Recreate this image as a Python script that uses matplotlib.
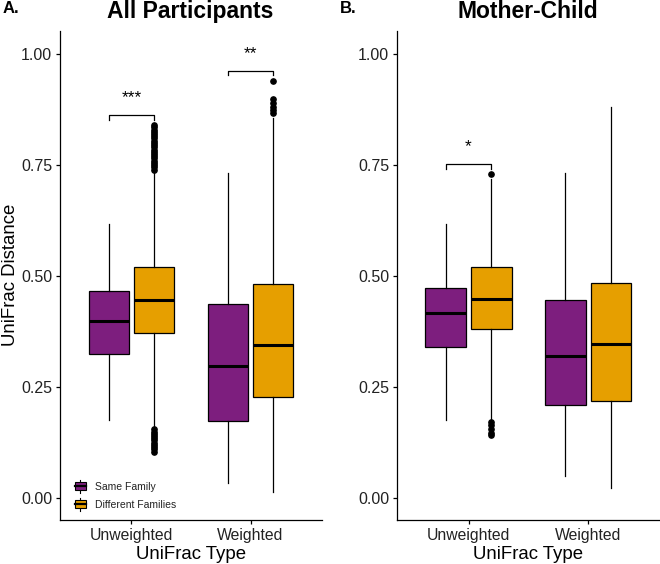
import matplotlib
matplotlib.use("Agg")
import matplotlib.pyplot as plt
from matplotlib.legend_handler import HandlerBase
from matplotlib.patches import Rectangle
from matplotlib.lines import Line2D

plt.rcParams['font.family'] = ['Liberation Sans', 'DejaVu Sans']

# ---------------- data ----------------
categories = ["Unweighted", "Weighted"]
groups = ["Same Family", "Different Families"]
colors = ["#7D1E7E", "#E69F00"]

# Panel A: All Participants  (whislo, q1, med, q3, whishi) per [category][group]
a_stats = [
    [(0.176, 0.325, 0.400, 0.467, 0.618), (0.160, 0.373, 0.447, 0.520, 0.734)],
    [(0.034, 0.173, 0.298, 0.438, 0.732), (0.013, 0.227, 0.345, 0.483, 0.856)],
]
a_fliers = [
    [[], [0.740, 0.745, 0.750, 0.755, 0.760, 0.765, 0.770, 0.775, 0.780, 0.785,
          0.790, 0.795, 0.800, 0.805, 0.810, 0.815, 0.820, 0.825, 0.830, 0.835, 0.840,
          0.105, 0.110, 0.115, 0.120, 0.125, 0.130, 0.135, 0.140, 0.145, 0.150, 0.155]],
    [[], [0.868, 0.875, 0.882, 0.890, 0.898, 0.940]],
]
a_signif = [("***", 0.862), ("**", 0.963)]

# Panel B: Mother-Child
b_stats = [
    [(0.176, 0.341, 0.418, 0.473, 0.618), (0.178, 0.381, 0.449, 0.520, 0.719)],
    [(0.049, 0.209, 0.321, 0.447, 0.732), (0.022, 0.218, 0.348, 0.485, 0.881)],
]
b_fliers = [
    [[], [0.730, 0.172, 0.164, 0.156, 0.148, 0.142]],
    [[], []],
]
b_signif = [("*", 0.752), None]

yticks = [0.00, 0.25, 0.50, 0.75, 1.00]
ytick_labels = ["0.00", "0.25", "0.50", "0.75", "1.00"]

# ---------------- figure ----------------
W, H = 660, 564
fig = plt.figure(figsize=(W / 100, H / 100), dpi=100)

def px_axes(x0, x1, ytop, ybot):
    return fig.add_axes([x0 / W, 1 - ybot / H, (x1 - x0) / W, (ybot - ytop) / H])

offset = 0.19
bwidth = 0.34

def draw_panel(ax, stats, fliers, signif):
    for ci, cat in enumerate(categories):
        for gi in range(2):
            wl, q1, med, q3, wh = stats[ci][gi]
            pos = ci + 1 + (offset if gi == 1 else -offset)
            st = dict(whislo=wl, q1=q1, med=med, q3=q3, whishi=wh, fliers=fliers[ci][gi])
            ax.bxp([st], positions=[pos], widths=bwidth, patch_artist=True,
                   showcaps=False,
                   boxprops=dict(facecolor=colors[gi], edgecolor="black", linewidth=0.9),
                   medianprops=dict(color="black", linewidth=2.2),
                   whiskerprops=dict(color="black", linewidth=0.9),
                   flierprops=dict(marker="o", markerfacecolor="black",
                                   markeredgecolor="black", markersize=3.8))
        s = signif[ci]
        if s is not None:
            label, yb = s
            x1, x2 = ci + 1 - offset, ci + 1 + offset
            d = 0.011
            ax.plot([x1, x1, x2, x2], [yb - d, yb, yb, yb - d], color="black",
                    linewidth=0.9, clip_on=False)
            ax.text((x1 + x2) / 2, yb + 0.022, label, ha="center", va="bottom",
                    fontsize=12.5)
    ax.set_xlim(0.4, 2.6)
    ax.set_ylim(-0.049, 1.052)
    ax.set_xticks([1, 2])
    ax.set_xticklabels(categories, fontsize=11.3, color="#222222")
    ax.set_yticks(yticks)
    ax.set_yticklabels(ytick_labels, fontsize=11.5, color="#222222")
    for side in ["top", "right"]:
        ax.spines[side].set_visible(False)
    for side in ["left", "bottom"]:
        ax.spines[side].set_linewidth(0.9)
    ax.tick_params(length=3, width=0.9, pad=2.5)

axA = px_axes(60, 322, 31, 520)
draw_panel(axA, a_stats, a_fliers, a_signif)

axB = px_axes(396.7, 660, 31, 520)
draw_panel(axB, b_stats, b_fliers, b_signif)

# axis titles
fig.text(11 / W, 1 - 275 / H, "UniFrac Distance", rotation=90, ha="center", va="center",
         fontsize=13.4)
fig.text(191 / W, 1 - 559 / H, "UniFrac Type", ha="center", va="baseline", fontsize=13.4)
fig.text(528 / W, 1 - 559 / H, "UniFrac Type", ha="center", va="baseline", fontsize=13.4)

# legend with boxplot glyph
class BoxHandler(HandlerBase):
    def create_artists(self, legend, orig_handle, xdescent, ydescent, width, height,
                       fontsize, trans):
        fc = orig_handle.get_facecolor()
        x0 = -xdescent
        y0 = -ydescent
        cx = x0 + width / 2
        rect = Rectangle((x0, y0 + height * 0.05), width, height * 0.9,
                         facecolor=fc, edgecolor="black", linewidth=0.8, transform=trans)
        med = Line2D([x0, x0 + width], [y0 + height / 2] * 2, color="black",
                     linewidth=1.6, transform=trans)
        w1 = Line2D([cx, cx], [y0 + height * 0.95, y0 + height * 1.25], color="black",
                    linewidth=0.8, transform=trans)
        w2 = Line2D([cx, cx], [y0 - height * 0.25, y0 + height * 0.05], color="black",
                    linewidth=0.8, transform=trans)
        return [w1, w2, rect, med]

handles = [Rectangle((0, 0), 1, 1, facecolor=c) for c in colors]
leg = axA.legend(handles, groups, handler_map={Rectangle: BoxHandler()},
                 loc="lower left", bbox_to_anchor=(68 / W, 1 - 517 / H),
                 bbox_transform=fig.transFigure, frameon=False, fontsize=7.5,
                 handlelength=1.0, handleheight=0.9, handletextpad=0.9,
                 labelspacing=0.75, borderpad=0.2)
for t in leg.get_texts():
    t.set_color("#222222")

# titles
fig.text(190 / W, 1 - 18 / H, "All Participants", ha="center", va="baseline",
         fontsize=16.5, fontweight="bold")
fig.text(3 / W, 1 - 13 / H, "A.", ha="left", va="baseline", fontsize=12, fontweight="bold")
fig.text(528 / W, 1 - 18 / H, "Mother-Child", ha="center", va="baseline",
         fontsize=16.5, fontweight="bold")
fig.text(340 / W, 1 - 13 / H, "B.", ha="left", va="baseline", fontsize=12, fontweight="bold")

fig.savefig("out.png", dpi=100)
